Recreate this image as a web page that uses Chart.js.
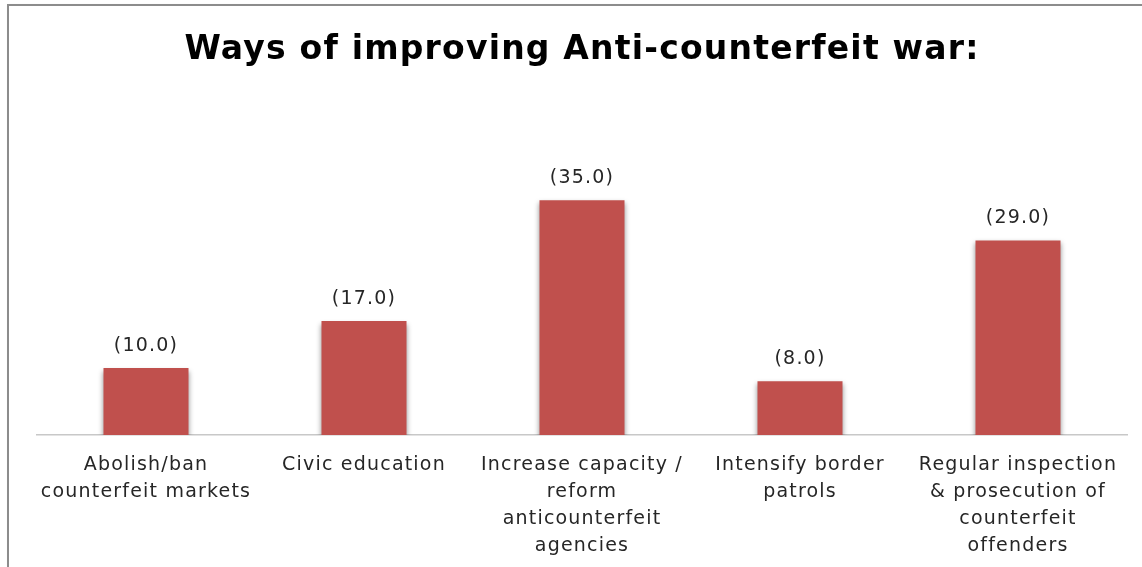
<!DOCTYPE html>
<html>
<head>
<meta charset="utf-8">
<script src="https://cdn.jsdelivr.net/npm/chart.js@4"></script>
<style>
  html, body { margin: 0; padding: 0; background: #fff; }
  #wrap { position: relative; width: 1142px; height: 567px; overflow: hidden; }
  #frame {
    position: absolute; left: 7px; top: 4px; right: -10px; bottom: -10px;
    border-left: 2px solid #8c8c8c; border-top: 2px solid #8c8c8c;
    box-shadow: 1px 1px 2px rgba(0,0,0,0.15);
  }
  canvas { position: absolute; left: 0; top: 0; }
</style>
</head>
<body>
<div id="wrap">
  <div id="frame"></div>
  <canvas id="barChart" width="1142" height="567"></canvas>
</div>
<script>
const categories = [
    ['Abolish/ban', 'counterfeit markets'],
    ['Civic education'],
    ['Increase capacity /', 'reform', 'anticounterfeit', 'agencies'],
    ['Intensify border', 'patrols'],
    ['Regular inspection', '& prosecution of', 'counterfeit', 'offenders']
];
const responses = [10, 17, 35, 8, 29];

const FONT = "'DejaVu Sans'";

// a little extra tracking on every piece of text
const textSpacing = {
    id: 'textSpacing',
    beforeDraw(chart) {
        chart.ctx.letterSpacing = '1.2px';
    }
};

// soft drop shadow under the bars
const barShadow = {
    id: 'barShadow',
    beforeDatasetsDraw(chart) {
        const ctx = chart.ctx;
        ctx.save();
        ctx.shadowColor = 'rgba(0, 0, 0, 0.4)';
        ctx.shadowBlur = 5;
        ctx.shadowOffsetX = 0;
        ctx.shadowOffsetY = 3;
    },
    afterDatasetsDraw(chart) {
        chart.ctx.restore();
    }
};

// "(value)" above each bar
const valueLabels = {
    id: 'valueLabels',
    afterDatasetsDraw(chart) {
        const ctx = chart.ctx;
        const meta = chart.getDatasetMeta(0);
        ctx.save();
        ctx.font = '19px ' + FONT;
        ctx.fillStyle = '#262626';
        ctx.textAlign = 'center';
        ctx.textBaseline = 'middle';
        meta.data.forEach((bar, i) => {
            const v = chart.data.datasets[0].data[i];
            ctx.fillText('(' + v.toFixed(1) + ')', bar.x, bar.y - 22);
        });
        ctx.restore();
    }
};

new Chart(document.getElementById('barChart').getContext('2d'), {
    type: 'bar',
    data: {
        labels: categories,
        datasets: [{
            data: responses,
            backgroundColor: '#C0504D',
            borderWidth: 0,
            barPercentage: 0.39,
            categoryPercentage: 1
        }]
    },
    options: {
        responsive: false,
        animation: false,
        layout: {
            padding: { left: 37, right: 15, top: 0, bottom: 0 }
        },
        scales: {
            x: {
                grid: { display: false },
                border: { display: true, color: '#c8c8c8', width: 1.5 },
                ticks: {
                    color: '#262626',
                    font: { family: FONT, size: 19, lineHeight: 1.41 },
                    padding: 9,
                    maxRotation: 0,
                    autoSkip: false
                },
                afterFit(scale) {
                    scale.height = 132;
                }
            },
            y: {
                display: false,
                min: 0,
                max: 40
            }
        },
        plugins: {
            legend: { display: false },
            tooltip: { enabled: false },
            title: {
                display: true,
                text: 'Ways of improving Anti-counterfeit war:',
                color: '#000',
                font: { family: FONT, size: 33, weight: 'bold', lineHeight: 1.2 },
                padding: { top: 31, bottom: 96 }
            }
        }
    },
    plugins: [textSpacing, barShadow, valueLabels]
});
</script>
</body>
</html>
